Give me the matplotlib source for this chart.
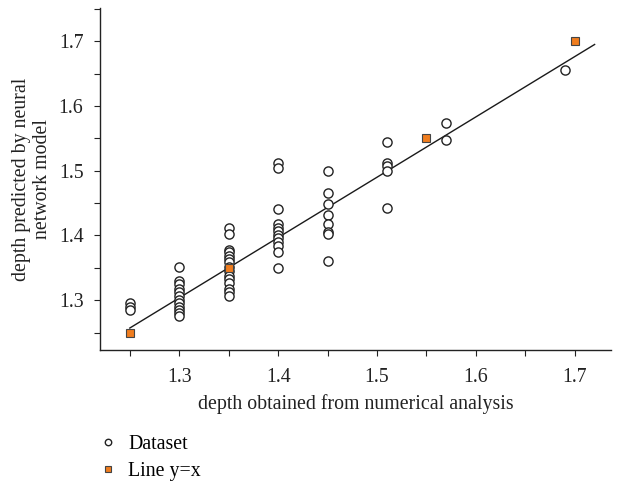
import numpy as np
import matplotlib
matplotlib.use("Agg")
import matplotlib.pyplot as plt
from matplotlib.ticker import MultipleLocator

# measured depth vs network prediction
data_x = ([1.25] * 3 + [1.30] * 12 + [1.35] * 15 + [1.40] * 12
          + [1.45] * 8 + [1.51] * 5 + [1.57] * 2 + [1.69])
data_y = [1.295, 1.29, 1.285,
          1.351, 1.33, 1.325, 1.318, 1.312, 1.306, 1.30, 1.296, 1.29, 1.285, 1.28, 1.276,
          1.411, 1.403, 1.378, 1.374, 1.369, 1.364, 1.359, 1.352, 1.345, 1.338, 1.332,
          1.326, 1.318, 1.312, 1.306,
          1.512, 1.504, 1.441, 1.417, 1.412, 1.407, 1.40, 1.396, 1.39, 1.384, 1.375, 1.349,
          1.50, 1.466, 1.449, 1.431, 1.418, 1.405, 1.403, 1.361,
          1.544, 1.512, 1.507, 1.50, 1.442,
          1.573, 1.548,
          1.655]

# reference points on y=x
ref_x = [1.25, 1.35, 1.55, 1.70]
ref_y = [1.25, 1.35, 1.55, 1.70]

# fitted trend line end points
fit_x = [1.25, 1.72]
fit_y = [1.257, 1.695]

plt.rcParams["font.family"] = ["Liberation Serif", "DejaVu Serif"]
plt.rcParams["font.size"] = 14.3

fig = plt.figure(figsize=(6.22, 4.83), dpi=100)
ax = fig.add_axes([0.161, 0.275, 0.822, 0.708])

ax.plot(fit_x, fit_y, color="#1a1a1a", lw=1.0, zorder=2)
ax.plot(data_x, data_y, "o", ms=6.6, mfc="white", mec="#222222", mew=1.0,
        label="Dataset", zorder=3)
ax.plot(ref_x, ref_y, "s", ms=5.8, mfc="#f07d1e", mec="#444444", mew=0.8,
        label="Line y=x", zorder=4)

ax.set_xlim(1.22, 1.737)
ax.set_ylim(1.2228, 1.751)

for side in ("top", "right"):
    ax.spines[side].set_visible(False)
for side in ("left", "bottom"):
    ax.spines[side].set_linewidth(1.0)
    ax.spines[side].set_color("#222222")

ax.xaxis.set_major_locator(MultipleLocator(0.1))
ax.xaxis.set_minor_locator(MultipleLocator(0.05))
ax.yaxis.set_major_locator(MultipleLocator(0.1))
ax.yaxis.set_minor_locator(MultipleLocator(0.05))
ax.tick_params(which="both", direction="out", length=4, width=0.8,
               color="#222222", labelcolor="#222222")
ax.tick_params(axis="x", pad=9)
ax.tick_params(axis="y", pad=8)
ax.xaxis.set_major_formatter(plt.FuncFormatter(lambda v, p: f"{v:.1f}"))
ax.yaxis.set_major_formatter(plt.FuncFormatter(lambda v, p: f"{v:.1f}"))

ax.set_xlabel("depth obtained from numerical analysis", color="#222222", labelpad=5)
ax.set_ylabel("depth predicted by neural\nnetwork model", color="#222222",
              labelpad=5, linespacing=1.15)

fig.legend(loc="upper left", bbox_to_anchor=(0.145, 0.12), frameon=False,
           handlelength=0.8, handletextpad=0.6, labelspacing=0.4,
           borderpad=0, markerscale=0.7)

fig.savefig("out.png", dpi=100)
